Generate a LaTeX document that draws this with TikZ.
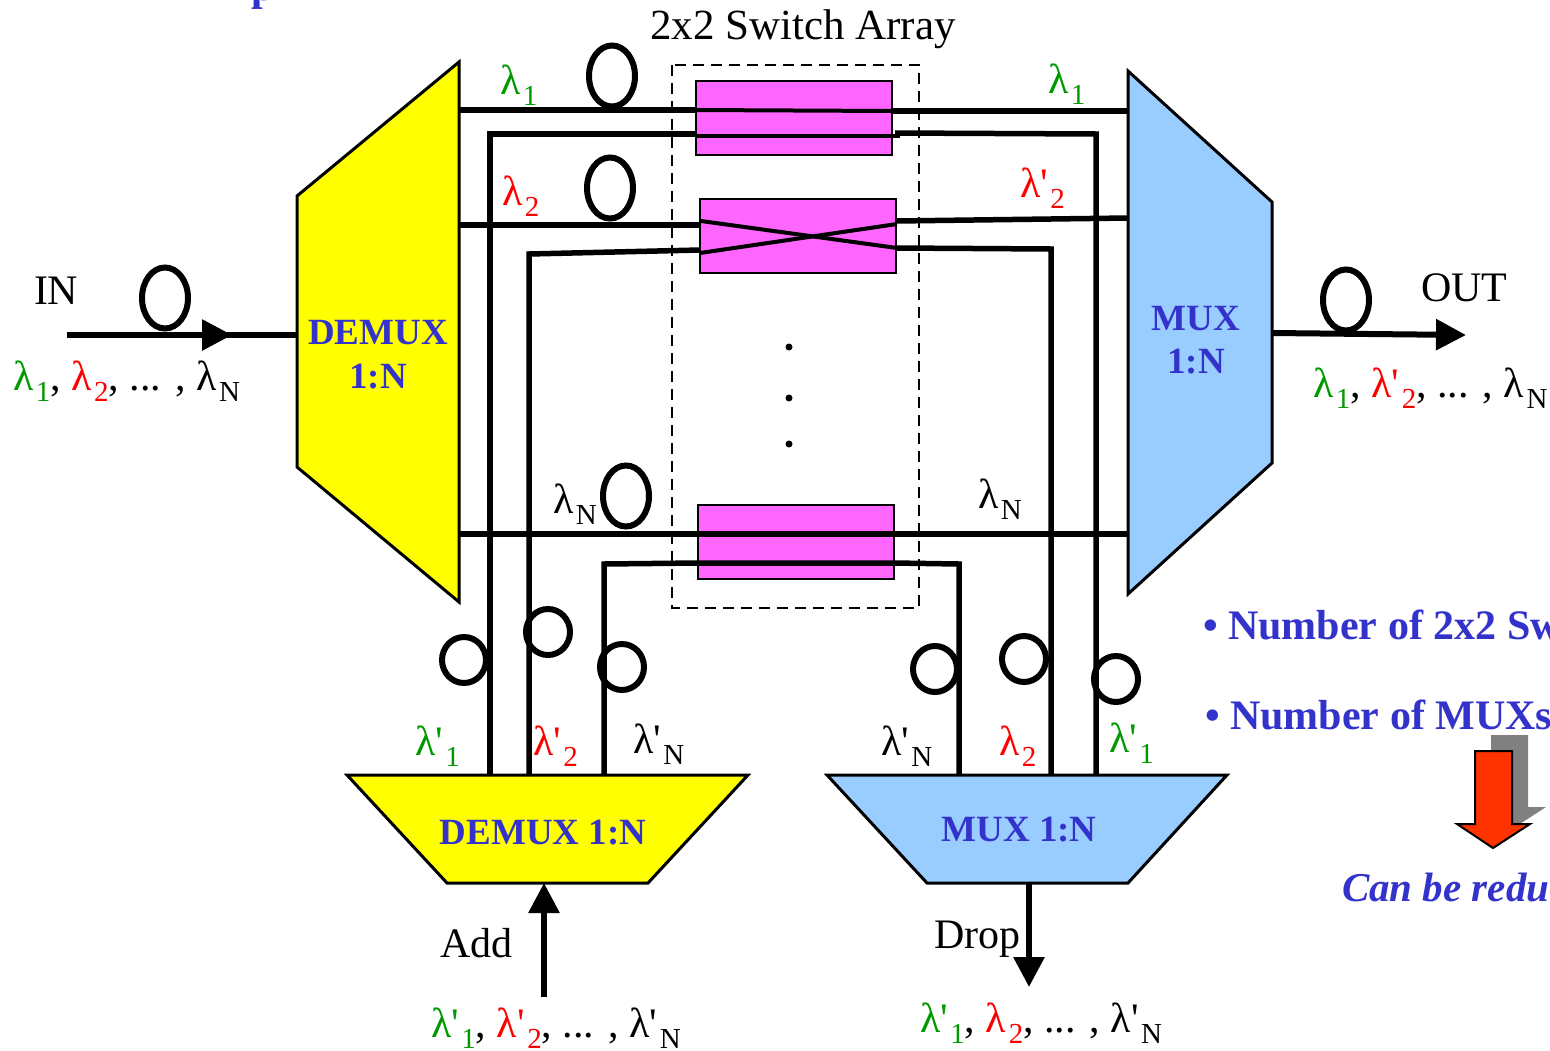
\documentclass[tikz,border=0pt]{standalone}
\usepackage{fontspec}
\setmainfont{Liberation Serif}[Ligatures=TeXOff]
\usetikzlibrary{arrows.meta,shapes.geometric}
\definecolor{lyellow}{RGB}{255,255,0}
\definecolor{lblue}{RGB}{153,204,255}
\definecolor{tblue}{RGB}{51,51,204}
\definecolor{swpink}{RGB}{255,102,255}
\definecolor{lgreen}{RGB}{0,153,0}
\definecolor{arrred}{RGB}{255,51,0}
\newcommand\fbig{\fontsize{42}{46}\selectfont}
\newcommand\lam[2]{λ\kern2.5pt\raisebox{-11.5pt}{\fontsize{29}{30}\selectfont #2}}
\newcommand\lamp[2]{λ'\kern2.5pt\raisebox{-11.5pt}{\fontsize{29}{30}\selectfont #2}}
\tikzset{
  txt/.style={inner sep=0pt,outer sep=0pt,anchor=base west,font=\fbig},
  btxt/.style={inner sep=0pt,outer sep=0pt,anchor=base,font=\fontsize{37}{40}\selectfont\bfseries,text=tblue},
  ntxt/.style={inner sep=0pt,outer sep=0pt,anchor=base west,font=\fontsize{42}{46}\selectfont\bfseries,text=tblue},
  swbox/.style={draw=black,fill=swpink,line width=2pt,minimum width=196pt,minimum height=74pt,inner sep=0pt,outer sep=0pt,anchor=north west},
  wire/.style={line width=6pt,draw=black},
  medwire/.style={line width=5.5pt,draw=black},
  inwire/.style={line width=4pt,draw=black},
  fiberloop/.style={ellipse,draw=black,line width=6pt,inner sep=0pt,outer sep=0pt,minimum width=46pt,minimum height=61pt},
  ringloop/.style={ellipse,draw=black,line width=6pt,inner sep=0pt,outer sep=0pt,minimum width=44pt,minimum height=46pt},
  trap/.style={draw=black,line width=3pt,line join=miter},
  tip/.style={-{Triangle[length=30pt,width=30pt]}},
  pdot/.style={circle,fill=black,inner sep=0pt,minimum size=7pt},
}
\begin{document}
\begin{tikzpicture}[x=1pt,y=-1pt]
\useasboundingbox (0,0) rectangle (1550,1050);
% shapes
\fill[white] (0,0) rectangle (1550,1050);
\draw[trap,fill=lyellow] (459,62) -- (297,196) -- (297,467) -- (459,602) -- cycle;
\draw[trap,fill=lblue] (1128,71) -- (1272,202) -- (1272,463) -- (1128,594) -- cycle;
\draw[trap,fill=lyellow] (347,775) -- (748,775) -- (648,883) -- (447,883) -- cycle;
\draw[trap,fill=lblue] (827,775) -- (1227,775) -- (1128,883) -- (927,883) -- cycle;
% switch array
\draw[line width=2.5pt,dash pattern=on 11pt off 7pt] (672,65) rectangle (919,608);
\node[swbox] (sa) at (696,81) {};
\node[swbox] (sb) at (700,199) {};
\node[swbox] (sc) at (698,505) {};
% ports
\coordinate (da) at (459,110);
\coordinate (db) at (459,225);
\coordinate (dc) at (459,534);
\coordinate (ma) at (1128,111);
\coordinate (mb) at (1128,218);
\coordinate (mc) at (1128,534);
\coordinate (aa) at (490,775);
\coordinate (ab) at (529,775);
\coordinate (ac) at (604,775);
\coordinate (oa) at (1096,775);
\coordinate (ob) at (1051,775);
\coordinate (oc) at (959,775);
\coordinate (sal) at (696,110);
\coordinate (sar) at (892,111);
\coordinate (sbl) at (696,134);
\coordinate (sbm) at (696,136);
\coordinate (sbr) at (900,136);
\coordinate (sbo) at (895,133);
% switch 1
\draw[wire] (da) -- (sal);
\draw[inwire] (sal) -- (sar);
\draw[medwire] (sar) -- (ma);
\draw[wire] (aa) -- (490,134) -- (sbl);
\draw[inwire] (sbm) -- (sbr);
\draw[medwire] (sbo) -- (1096,134) -- (oa);
% switch 2
\coordinate (scl) at (701,221);
\coordinate (scr) at (897,248);
\coordinate (sdl) at (700,253);
\coordinate (sdr) at (897,224);
\draw[wire] (db) -- (700,225);
\draw[medwire] (ab) -- (529,254) -- (700,250);
\draw[inwire] (scl) -- (scr);
\draw[inwire] (sdl) -- (sdr);
\draw[medwire] (896,221) -- (mb);
\draw[medwire] (896,248) -- (1051,249) -- (ob);
% switch 3
\draw[medwire] (dc) -- (mc);
\draw[medwire] (ac) -- (604,564) -- (698,563) -- (894,563) -- (959,564) -- (oc);
% loops
\node[fiberloop] (la) at (612,76) {};
\node[fiberloop] (lb) at (610,188) {};
\node[fiberloop] (lc) at (626,496) {};
\node[fiberloop] (ld) at (165,298) {};
\node[fiberloop] (le) at (1346,300) {};
\node[ringloop] (ra) at (464,660) {};
\node[ringloop] (rb) at (548,632) {};
\node[ringloop] (rc) at (622,667) {};
\node[ringloop] (rd) at (935,669) {};
\node[ringloop] (re) at (1024,659) {};
\node[ringloop] (rf) at (1116,679) {};
% main arrows
\coordinate (inS) at (67,335);
\coordinate (inT) at (232,335);
\coordinate (inE) at (297,335);
\draw[medwire] (inS) -- (inE);
\draw[wire,tip] (inS) -- (inT);
\coordinate (outS) at (1272,333);
\coordinate (outT) at (1466,335);
\draw[wire,tip] (outS) -- (outT);
\coordinate (addS) at (544,997);
\coordinate (addT) at (544,883);
\draw[wire,tip] (addS) -- (addT);
\coordinate (dropS) at (1029,884);
\coordinate (dropT) at (1029,987);
\draw[wire,tip] (dropS) -- (dropT);
% dots
\node[pdot] (pa) at (789,347) {};
\node[pdot] (pb) at (789,398) {};
\node[pdot] (pc) at (789,444) {};
% texts
\node[ntxt] (tp) at (251,0) {p};
\node[txt,font=\fontsize{43}{46}\selectfont] (t0) at (650,39) {2x2 Switch Array};
\node[txt] (tin) at (34,304) {IN};
\node[txt] (tout) at (1421,301) {OUT};
\node[txt] (tadd) at (440,957) {Add};
\node[txt] (tdrop) at (934,948) {Drop};
\node[txt,text=lgreen] (l1) at (500,94) {\lam{}{1}};
\node[txt,text=red] (l2) at (502,205) {\lam{}{2}};
\node[txt] (l3) at (553,513) {\lam{}{N}};
\node[txt,text=lgreen] (l4) at (1048,93) {\lam{}{1}};
\node[txt,text=red] (l5) at (1020,197) {\lamp{}{2}};
\node[txt] (l6) at (978,508) {\lam{}{N}};
\node[txt,text=lgreen] (l7) at (415,755) {\lamp{}{1}};
\node[txt,text=red] (l8) at (533,755) {\lamp{}{2}};
\node[txt] (l9) at (633,753) {\lamp{}{N}};
\node[txt] (l10) at (881,755) {\lamp{}{N}};
\node[txt,text=red] (l11) at (999,755) {\lam{}{2}};
\node[txt,text=lgreen] (l12) at (1109,752) {\lamp{}{1}};
\node[txt] (ll1) at (13,390) {\textcolor{lgreen}{\lam{}{1}}, \textcolor{red}{\lam{}{2}}, ... , \lam{}{N}};
\node[txt] (ll2) at (1313,397) {\textcolor{lgreen}{\lam{}{1}}, \textcolor{red}{\lamp{}{2}}, ... , \lam{}{N}};
\node[txt] (ll3) at (431,1037) {\textcolor{lgreen}{\lamp{}{1}}, \textcolor{red}{\lamp{}{2}}, ... , \lamp{}{N}};
\node[txt] (ll4) at (920,1032) {\textcolor{lgreen}{\lamp{}{1}}, \textcolor{red}{\lam{}{2}}, ... , \lamp{}{N}};
\node[btxt] (b1) at (378,344) {DEMUX};
\node[btxt] (b2) at (378,388) {1:N};
\node[btxt] (b3) at (1196,330) {MUX};
\node[btxt] (b4) at (1196,373) {1:N};
\node[btxt] (b5) at (543,844) {DEMUX 1:N};
\node[btxt] (b6) at (1019,841) {MUX 1:N};
\node[ntxt] (n1) at (1203,639) {• Number of 2x2 Sw};
\node[ntxt] (n2) at (1205,729) {• Number of MUXs};
\node[ntxt,font=\fontsize{41}{44}\selectfont\bfseries\itshape] (n3) at (1342,901) {Can be redu};
% red arrow with shadow
\fill[black!50] (1491,735) -- (1528,735) -- (1528,807) -- (1546,807) -- (1509,831) -- (1491,807) -- cycle;
\draw[fill=arrred,line width=2pt,line join=miter] (1475,751) -- (1512,751) -- (1512,824) -- (1530,824) -- (1493,848) -- (1457,824) -- (1475,824) -- cycle;
\end{tikzpicture}
\end{document}
